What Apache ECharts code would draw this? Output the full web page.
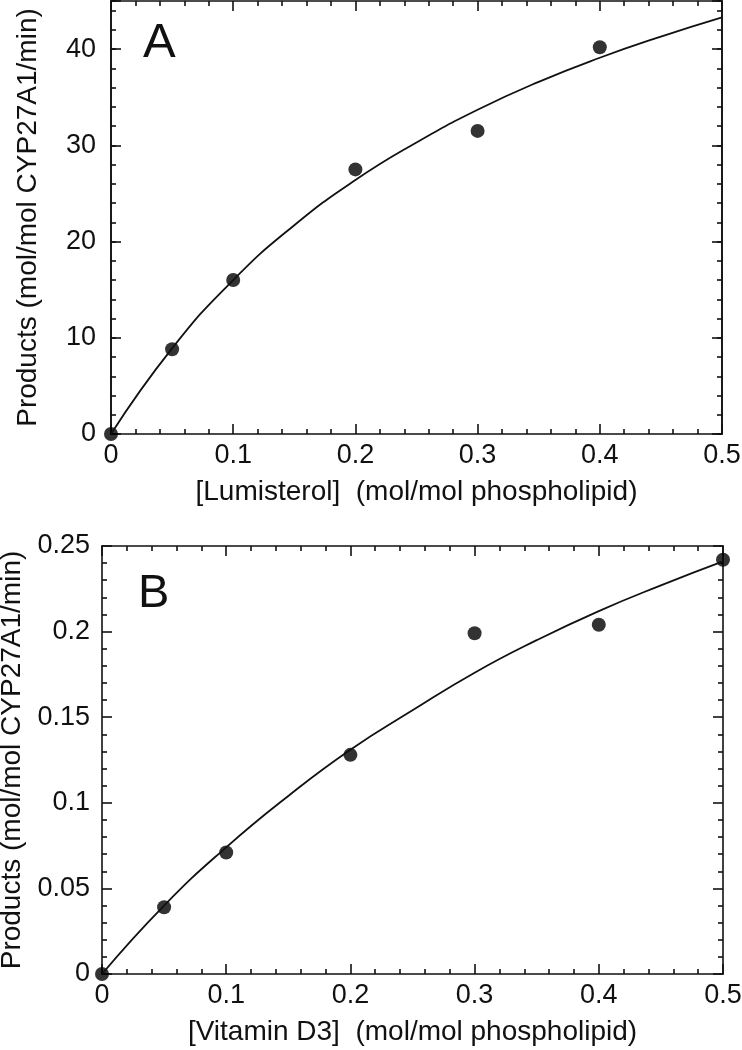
<!DOCTYPE html>
<html>
<head>
<meta charset="utf-8">
<script src="https://cdn.jsdelivr.net/npm/echarts@6/dist/echarts.min.js"></script>
<style>
html,body{margin:0;padding:0;background:#fff;}
#chart{width:742px;height:1050px;}
</style>
</head>
<body>
<div id="chart"></div>
<script>
// Panel A data
const concA = [0, 0.05, 0.1, 0.2, 0.3, 0.4];
const prodA = [0, 8.8, 16.0, 27.5, 31.5, 40.2];
// Panel B data
const concB = [0, 0.05, 0.1, 0.2, 0.3, 0.4, 0.5];
const prodB = [0, 0.039, 0.071, 0.128, 0.199, 0.204, 0.242];
// Fitted curves
const fitX = [0, 0.05, 0.1, 0.15, 0.2, 0.25, 0.3, 0.35, 0.4, 0.45, 0.5];
const fitA = [0, 8.9, 16.0, 21.7, 26.4, 30.3, 33.7, 36.6, 39.1, 41.3, 43.3];
const fitB = [0, 0.040, 0.074, 0.104, 0.131, 0.154, 0.176, 0.195, 0.212, 0.227, 0.241];
// Tick labels
const xTicks = [0, 0.1, 0.2, 0.3, 0.4, 0.5];
const yTicksA = [0, 10, 20, 30, 40];
const yTicksB = [0, 0.05, 0.1, 0.15, 0.2, 0.25];
const xTitleA = '[Lumisterol]  (mol/mol phospholipid)';
const xTitleB = '[Vitamin D3]  (mol/mol phospholipid)';
const yTitle = 'Products (mol/mol CYP27A1/min)';

const FONT = 'Liberation Sans, Arial, Helvetica, sans-serif';
const INK = '#111';
const lineStyle = {color: INK, width: 1.6};
const TICKFS = 27;
const NAMEFS = 28;

function xAxisDef(grid, pos, withLabels, name) {
  return {
    type: 'value', gridIndex: grid, position: pos, min: 0, max: 0.5, interval: 0.1,
    axisLine: {show: true, onZero: false, lineStyle},
    axisTick: {show: true, inside: true, length: 10, lineStyle},
    minorTick: {show: true, splitNumber: 5, length: 5, lineStyle},
    splitLine: {show: false},
    axisLabel: {show: withLabels, margin: 8, fontSize: TICKFS, color: INK, fontFamily: FONT,
      formatter: v => xTicks.includes(+v.toFixed(2)) ? String(+v.toFixed(2)) : ''},
    name: name || '', nameLocation: 'middle', nameGap: 44,
    nameTextStyle: {fontSize: NAMEFS, color: INK, fontFamily: FONT}
  };
}
function yAxisDef(grid, pos, min, max, interval, len, labels, ticks, margin, minor, gap) {
  return {
    type: 'value', gridIndex: grid, position: pos, min, max, interval,
    axisLine: {show: true, onZero: false, lineStyle},
    axisTick: {show: true, inside: true, length: len, lineStyle},
    minorTick: {show: !!minor, splitNumber: 5, length: 5, lineStyle},
    splitLine: {show: false},
    axisLabel: {show: !!labels, margin: margin || 8, fontSize: TICKFS, color: INK, fontFamily: FONT,
      formatter: v => {
        const r = +v.toFixed(3);
        return ticks && ticks.includes(r) ? String(r) : '';
      }},
    name: labels ? yTitle : '', nameLocation: 'middle', nameGap: gap || 0,
    nameTextStyle: {fontSize: NAMEFS, color: INK, fontFamily: FONT}
  };
}

const chart = echarts.init(document.getElementById('chart'), null, {renderer: 'canvas'});
const option = {
  backgroundColor: '#fff',
  animation: false,
  grid: [
    {left: 111, right: 20, top: 1, bottom: 616, containLabel: false, outerBoundsMode: 'none'},
    {left: 102, right: 19, top: 546, bottom: 76, containLabel: false, outerBoundsMode: 'none'}
  ],
  xAxis: [
    xAxisDef(0, 'bottom', true, xTitleA),
    xAxisDef(0, 'top', false),
    xAxisDef(1, 'bottom', true, xTitleB),
    xAxisDef(1, 'top', false)
  ],
  yAxis: [
    yAxisDef(0, 'left', 0, 45, 10, 10, true, yTicksA, 15, false, 69),
    yAxisDef(0, 'left', 0, 45, 2, 5, false, null, 0, false),
    yAxisDef(0, 'right', 0, 45, 10, 10, false, null, 0, false),
    yAxisDef(0, 'right', 0, 45, 2, 5, false, null, 0, false),
    yAxisDef(1, 'left', 0, 0.25, 0.05, 10, true, yTicksB, 12, true, 66),
    yAxisDef(1, 'right', 0, 0.25, 0.05, 10, false, null, 0, true)
  ],
  graphic: [
    {type: 'text', left: 143, top: 19, style: {text: 'A', fontSize: 49, fill: INK, fontFamily: FONT}},
    {type: 'text', left: 138, top: 571, style: {text: 'B', fontSize: 47, fill: INK, fontFamily: FONT}}
  ],
  series: [
    {type: 'line', xAxisIndex: 0, yAxisIndex: 0, smooth: true, showSymbol: false, silent: true,
      lineStyle: {color: INK, width: 1.8}, data: fitX.map((x, i) => [x, fitA[i]])},
    {type: 'scatter', xAxisIndex: 0, yAxisIndex: 0, symbolSize: 14, clip: false,
      itemStyle: {color: '#000'}, data: concA.map((x, i) => [x, prodA[i]])},
    {type: 'line', xAxisIndex: 2, yAxisIndex: 4, smooth: true, showSymbol: false, silent: true,
      lineStyle: {color: INK, width: 1.8}, data: fitX.map((x, i) => [x, fitB[i]])},
    {type: 'scatter', xAxisIndex: 2, yAxisIndex: 4, symbolSize: 14, clip: false,
      itemStyle: {color: '#000'}, data: concB.map((x, i) => [x, prodB[i]])}
  ]
};
chart.setOption(option);
</script>
</body>
</html>
